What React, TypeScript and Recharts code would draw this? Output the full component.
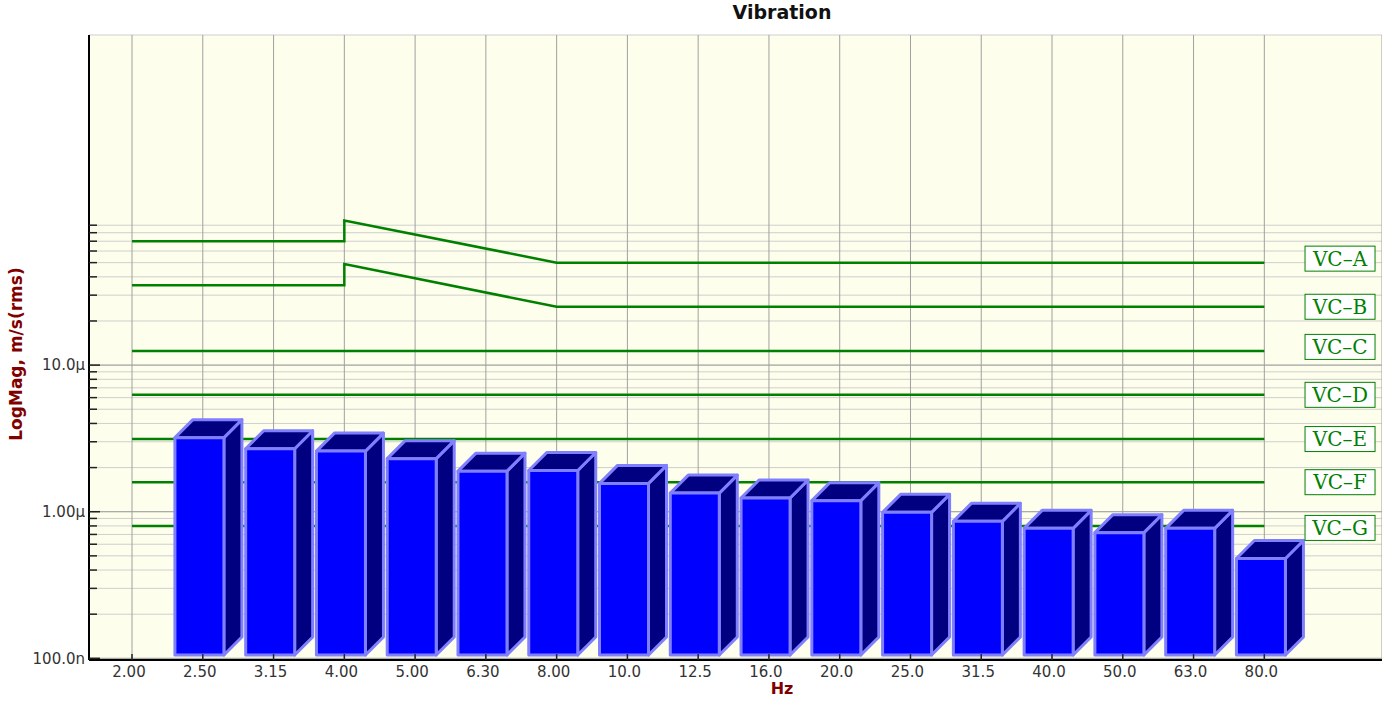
import { ComposedChart, Bar, Line, XAxis, YAxis, CartesianGrid, ReferenceDot, ReferenceLine } from 'recharts'

// third-octave band centres, Hz
const freqLabels = ['2.00', '2.50', '3.15', '4.00', '5.00', '6.30', '8.00', '10.0', '12.5', '16.0', '20.0', '25.0', '31.5', '40.0', '50.0', '63.0', '80.0']

// measured velocity per band, um/s (no bar at 2.00 Hz)
const barBands = ['2.50', '3.15', '4.00', '5.00', '6.30', '8.00', '10.0', '12.5', '16.0', '20.0', '25.0', '31.5', '40.0', '50.0', '63.0', '80.0']
const magnitude = [3.2, 2.69, 2.59, 2.3, 1.89, 1.91, 1.56, 1.34, 1.24, 1.19, 0.99, 0.86, 0.77, 0.72, 0.77, 0.48]

// VC criteria curves, um/s, at band index
const slopedIdx = [0, 3, 3, 6, 16]
const vcA = [70, 70, 97, 50, 50]
const vcB = [35, 35, 49, 25, 25]
const flatIdx = [0, 16]
const vcC = [12.5, 12.5]
const vcD = [6.27, 6.27]
const vcE = [3.13, 3.13]
const vcF = [1.59, 1.59]
const vcG = [0.8, 0.8]

const vcNames = ['VC–A', 'VC–B', 'VC–C', 'VC–D', 'VC–E', 'VC–F', 'VC–G']

const majorTicks = [1e-7, 1e-6, 1e-5]
const majorLabels = ['100.0n', '1.00µ', '10.0µ']
const minorTicks = majorTicks.flatMap((d) => [1, 2, 3, 4, 5, 6, 7, 8, 9].map((k) => d * k))

const barData = barBands.map((b, i) => ({ idx: freqLabels.indexOf(b), mag: magnitude[i] * 1e-6 }))
const toLine = (xs: number[], vs: number[]) => xs.map((x, i) => ({ idx: x, v: vs[i] * 1e-6 }))
const curves = [
  toLine(slopedIdx, vcA),
  toLine(slopedIdx, vcB),
  toLine(flatIdx, vcC),
  toLine(flatIdx, vcD),
  toLine(flatIdx, vcE),
  toLine(flatIdx, vcF),
  toLine(flatIdx, vcG),
]
const labelNudge = [-4, 0, -4, 0, 0, 0, 2]

const GREEN = '#008000'
const SANS = '"DejaVu Sans", Verdana, sans-serif'
const AXIS_X = 89
const AXIS_Y = 660

function Box3D(props: any) {
  const { x, y, width, height } = props
  if (height == null || height <= 0) return null
  const d = 18
  const fx = x - 3.5
  const w = width
  const top = y
  const bottom = y + height - 5
  return (
    <g stroke="#8080ff" strokeWidth={3} strokeLinejoin="round">
      <polygon points={`${fx + w},${top} ${fx + w + d},${top - d} ${fx + w + d},${bottom - d} ${fx + w},${bottom}`} fill="#000080" />
      <polygon points={`${fx},${top} ${fx + d},${top - d} ${fx + w + d},${top - d} ${fx + w},${top}`} fill="#000080" />
      <rect x={fx} y={top} width={w} height={bottom - top} fill="#0000ff" />
    </g>
  )
}

function YTick(props: any) {
  const { y, payload } = props
  const v = payload.value
  const mi = majorTicks.findIndex((m) => Math.abs(m - v) / m < 1e-6)
  return (
    <g>
      <line x1={AXIS_X} x2={AXIS_X + (mi >= 0 ? 11 : 8)} y1={y} y2={y} stroke="#222" strokeWidth={1.5} />
      {mi >= 0 && (
        <text x={85} y={y} dy="0.35em" textAnchor="end" fontFamily={SANS} fontSize={15} fill="#333">
          {majorLabels[mi]}
        </text>
      )}
    </g>
  )
}

function XTick(props: any) {
  const { x, payload } = props
  return (
    <g>
      <line x1={x} x2={x} y1={AXIS_Y} y2={AXIS_Y - 6} stroke="#222" strokeWidth={1.5} />
      <text x={x - 3} y={677} textAnchor="middle" fontFamily={SANS} fontSize={15} fill="#333">
        {freqLabels[payload.value]}
      </text>
    </g>
  )
}

const vcLabel = (name: string, nudge: number) => (p: any) => (
  <g>
    <rect x={p.cx - 35} y={p.cy - 12.5 + nudge} width={70} height={25} fill="#fff" stroke={GREEN} strokeWidth={1} />
    <text x={p.cx} y={p.cy + nudge} dy="0.36em" textAnchor="middle" fontFamily='"DejaVu Serif", serif' fontSize={20} fill={GREEN}>
      {name}
    </text>
  </g>
)

export default function App() {
  const domainY: [number, number] = [0.974e-7, 1.785e-3]
  return (
    <div style={{ position: 'absolute', left: 0, top: 0, width: 1382, height: 702, background: '#fff' }}>
      <div style={{ position: 'absolute', left: 582, width: 400, top: 1, textAlign: 'center', fontFamily: SANS, fontWeight: 'bold', fontSize: 19, color: '#111' }}>
        Vibration
      </div>
      <div
        style={{
          position: 'absolute', left: 16 - 150, top: 354 - 11, width: 300, height: 22, lineHeight: '22px',
          textAlign: 'center', transform: 'rotate(-90deg)', fontFamily: SANS, fontWeight: 'bold', fontSize: 17, color: '#800000',
        }}
      >
        LogMag, m/s(rms)
      </div>
      <div style={{ position: 'absolute', left: 732, width: 100, top: 679, textAlign: 'center', fontFamily: SANS, fontWeight: 'bold', fontSize: 16, color: '#800000' }}>
        Hz
      </div>
      <ComposedChart width={1382} height={702} data={barData} margin={{ top: 35, right: 0, left: 0, bottom: 0 }}>
        <CartesianGrid yAxisId="y" fill="#fefeec" stroke="#cfcfcf" vertical={false} />
        <CartesianGrid yAxisId="y" stroke="#a0a0a0" horizontal={false} />
        <XAxis
          dataKey="idx"
          type="number"
          domain={[-0.608, 17.663]}
          allowDataOverflow
          ticks={freqLabels.map((_, i) => i)}
          interval={0}
          height={42}
          tickLine={false}
          tick={<XTick />}
          axisLine={{ stroke: '#000', strokeWidth: 2 }}
        />
        <YAxis
          yAxisId="y"
          type="number"
          scale="log"
          domain={domainY}
          allowDataOverflow
          ticks={minorTicks}
          interval={0}
          width={AXIS_X}
          tickLine={false}
          tick={<YTick />}
          axisLine={{ stroke: '#000', strokeWidth: 2 }}
        />
        {majorTicks.map((m) => (
          <ReferenceLine key={'maj' + m} yAxisId="y" y={m} stroke="#a0a0a0" strokeWidth={1} zIndex={-50} />
        ))}
        {curves.map((c, i) => (
          <Line
            key={vcNames[i]}
            yAxisId="y"
            data={c}
            dataKey="v"
            type="linear"
            stroke={GREEN}
            strokeWidth={2.5}
            dot={false}
            activeDot={false}
            isAnimationActive={false}
            zIndex={250}
          />
        ))}
        <Bar yAxisId="y" dataKey="mag" barSize={49} shape={Box3D} isAnimationActive={false} zIndex={300} />
        {curves.map((c, i) => (
          <ReferenceDot
            key={'lbl' + i}
            yAxisId="y"
            x={17.07}
            y={c[c.length - 1].v}
            r={0}
            shape={vcLabel(vcNames[i], labelNudge[i])}
          />
        ))}
      </ComposedChart>
    </div>
  )
}
